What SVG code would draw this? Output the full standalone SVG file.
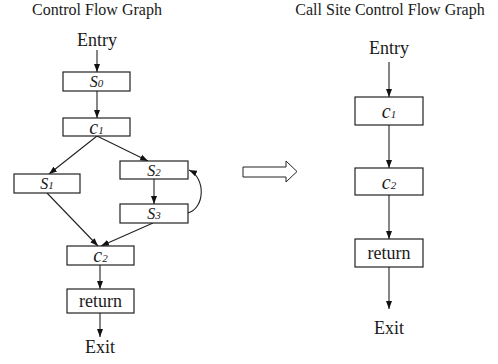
<svg xmlns="http://www.w3.org/2000/svg" width="498" height="364" viewBox="0 0 498 364">
<style>
text{font-family:"Liberation Serif","Times New Roman",serif;fill:#1a1a1a}
.t{font-size:16px}
.l{font-size:18px}
.v{font-size:16px;font-style:italic}
.c{font-size:20px;font-style:italic}
.sub{font-size:11px;font-style:italic}
rect{fill:#fff;stroke:#222;stroke-width:1.2}
.e{fill:none;stroke:#222;stroke-width:1.1;marker-end:url(#ah)}
</style>
<defs>
<marker id="ah" markerWidth="8" markerHeight="6" refX="8" refY="3" orient="auto" markerUnits="userSpaceOnUse">
<path d="M0,0 L8,3 L0,6 Z" fill="#111"/>
</marker>
</defs>
<text class="t" x="97" y="15" text-anchor="middle">Control Flow Graph</text>
<text class="t" x="390" y="15" text-anchor="middle">Call Site Control Flow Graph</text>
<g id="connectors">
<line class="e" x1="97" y1="50" x2="97" y2="72"/>
<line class="e" x1="97" y1="91" x2="97" y2="118"/>
<line class="e" x1="97" y1="136" x2="49" y2="174"/>
<line class="e" x1="97" y1="136" x2="148" y2="161"/>
<line class="e" x1="154" y1="179" x2="154" y2="204"/>
<path class="e" d="M188,213 C205,208 206,178 189,170"/>
<line class="e" x1="47" y1="193" x2="98" y2="246"/>
<line class="e" x1="153" y1="223" x2="101" y2="246"/>
<line class="e" x1="100" y1="265" x2="100" y2="289"/>
<line class="e" x1="100" y1="313" x2="100" y2="337"/>
<line class="e" x1="389" y1="62" x2="389" y2="97"/>
<line class="e" x1="389" y1="125" x2="389" y2="168"/>
<line class="e" x1="389" y1="195" x2="389" y2="239"/>
<line class="e" x1="389" y1="267" x2="389" y2="309"/>
</g>
<g id="arrow-transform">
<path d="M243,167 L286,167 L286,161 L297,171.5 L286,182 L286,177 L243,177 Z" fill="#fff" stroke="#222" stroke-width="1"/>
</g>
<g id="entry-left"><text class="l" x="97" y="46" text-anchor="middle">Entry</text></g>
<g id="s0"><rect x="63" y="72" width="67" height="19"/><text x="96.5" y="87" text-anchor="middle"><tspan class="v">S</tspan><tspan class="sub">0</tspan></text></g>
<g id="c1-left"><rect x="63" y="118" width="67" height="18"/><text x="96.5" y="134" text-anchor="middle"><tspan class="c">c</tspan><tspan class="sub">1</tspan></text></g>
<g id="s1"><rect x="14" y="174" width="66" height="19"/><text x="47" y="189" text-anchor="middle"><tspan class="v">S</tspan><tspan class="sub">1</tspan></text></g>
<g id="s2"><rect x="120" y="161" width="68" height="18"/><text x="154" y="176" text-anchor="middle"><tspan class="v">S</tspan><tspan class="sub">2</tspan></text></g>
<g id="s3"><rect x="120" y="204" width="68" height="19"/><text x="154" y="219" text-anchor="middle"><tspan class="v">S</tspan><tspan class="sub">3</tspan></text></g>
<g id="c2-left"><rect x="67" y="246" width="67" height="19"/><text x="100.5" y="262" text-anchor="middle"><tspan class="c">c</tspan><tspan class="sub">2</tspan></text></g>
<g id="return-left"><rect x="67" y="289" width="67" height="24"/><text class="l" x="100.5" y="307" text-anchor="middle">return</text></g>
<g id="exit-left"><text class="l" x="100" y="353" text-anchor="middle">Exit</text></g>
<g id="entry-right"><text class="l" x="389" y="54" text-anchor="middle">Entry</text></g>
<g id="c1-right"><rect x="355" y="97" width="68" height="28"/><text x="389" y="118" text-anchor="middle"><tspan class="c">c</tspan><tspan class="sub">1</tspan></text></g>
<g id="c2-right"><rect x="355" y="168" width="68" height="27"/><text x="389" y="189" text-anchor="middle"><tspan class="c">c</tspan><tspan class="sub">2</tspan></text></g>
<g id="return-right"><rect x="355" y="239" width="68" height="28"/><text class="l" x="389" y="259" text-anchor="middle">return</text></g>
<g id="exit-right"><text class="l" x="389" y="334" text-anchor="middle">Exit</text></g>
</svg>
